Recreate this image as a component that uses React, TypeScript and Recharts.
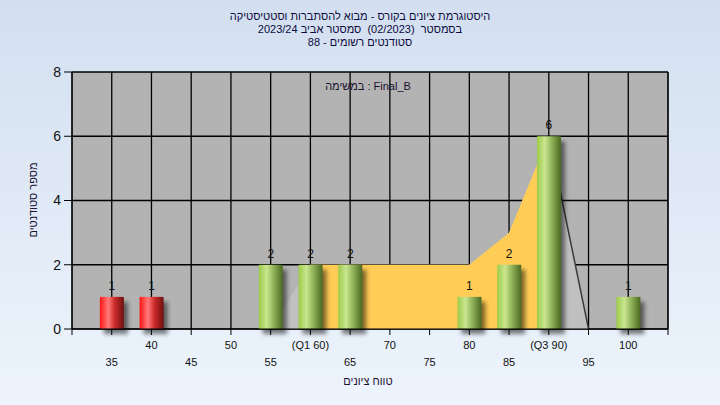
import React from 'react'
import { ComposedChart, Bar, Area, XAxis, YAxis, CartesianGrid, LabelList } from 'recharts'

// grade bins (x axis runs 30..105, labels only on 35..100)
const gradeBins = [30, 35, 40, 45, 50, 55, 60, 65, 70, 75, 80, 85, 90, 95, 100, 105]
const studentCounts = [null, 1, 1, 0, 0, 2, 2, 2, 0, 0, 1, 2, 6, 0, 1, null]
const curveValues = [0, 0, 0, 0, 0, 0, 2, 2, 2, 2, 2, 3, 6, 0, 0, 0]
const iqrValues = [null, null, null, null, null, null, 2, 2, 2, 2, 2, 3, 6, null, null, null]
const tailValues = [null, null, null, null, null, null, null, null, null, null, null, null, 6, 0, 0, null]
const failBins = [35, 40, 45, 50]
const labeledTicks = [35, 40, 45, 50, 55, 60, 65, 70, 75, 80, 85, 90, 95, 100]
const quartileTicks = [60, 90]
const quartileNames = ['Q1', 'Q3']
const yTicks = [0, 2, 4, 6, 8]

const titleLines = [
  'היסטוגרמת ציונים בקורס - מבוא להסתברות וסטטיסטיקה',
  'בסמסטר  (02/2023)  סמסטר אביב 2023/24',
  'סטודנטים רשומים - 88',
]

const rows = gradeBins.map((grade, i) => ({
  grade,
  count: studentCounts[i],
  curve: curveValues[i],
  iqr: iqrValues[i],
  tail: tailValues[i],
}))

const font = '"Liberation Sans", "DejaVu Sans", Arial, sans-serif'

const CylinderBar = (props: any) => {
  const { x, y, width, height, payload } = props
  if (!height || height <= 0) return null
  const fail = failBins.includes(payload.grade)
  return (
    <g>
      <rect x={x + 4} y={y + 5} width={width} height={height} fill="#000" opacity={0.5} filter="url(#barShadow)" />
      <rect x={x} y={y} width={width} height={height} fill={fail ? 'url(#redCyl)' : 'url(#greenCyl)'} />
    </g>
  )
}

const GradeTick = (props: any) => {
  const { x, y, payload } = props
  const v = payload.value
  if (!labeledTicks.includes(v)) return null
  const q = quartileTicks.indexOf(v)
  const text = q >= 0 ? `(${quartileNames[q]} ${v})` : String(v)
  const row = v % 10 === 0 ? 0 : 1
  return (
    <text x={x} y={y + 12 + row * 17} textAnchor="middle" fontSize={11} fill="#111" fontFamily={font}>
      {text}
    </text>
  )
}

const countLabel = (v: any) => (v ? String(v) : '')

const overlayText: React.CSSProperties = {
  position: 'absolute',
  transform: 'translate(-50%, -50%)',
  fontSize: 11,
  color: '#1a1030',
  whiteSpace: 'nowrap',
}

export default function App() {
  return (
    <div
      style={{
        position: 'absolute',
        left: 0,
        top: 0,
        width: 720,
        height: 405,
        background: 'linear-gradient(#d3dff0, #edf4fc)',
        fontFamily: font,
        overflow: 'hidden',
      }}
    >
      <ComposedChart width={720} height={405} data={rows} margin={{ top: 72, right: 0, bottom: 0, left: 0 }}>
        <defs>
          <linearGradient id="greenCyl" x1="0" y1="0" x2="1" y2="0">
            <stop offset="0%" stopColor="#9ccb4a" />
            <stop offset="33%" stopColor="#cae690" />
            <stop offset="60%" stopColor="#93b65a" />
            <stop offset="100%" stopColor="#4b6822" />
          </linearGradient>
          <linearGradient id="redCyl" x1="0" y1="0" x2="1" y2="0">
            <stop offset="0%" stopColor="#ff1414" />
            <stop offset="35%" stopColor="#ff7a7a" />
            <stop offset="62%" stopColor="#cc2a2a" />
            <stop offset="100%" stopColor="#6e1010" />
          </linearGradient>
          <filter id="barShadow" x="-50%" y="-20%" width="200%" height="140%">
            <feGaussianBlur stdDeviation="2" />
          </filter>
        </defs>
        <CartesianGrid yAxisId="left" stroke="#000" strokeWidth={1.3} fill="#b3b3b3" fillOpacity={1} />
        <XAxis
          dataKey="grade"
          type="number"
          domain={[30, 105]}
          ticks={gradeBins}
          interval={0}
          height={76}
          tickSize={6}
          tickMargin={2}
          stroke="#000"
          tick={<GradeTick />}
        />
        <YAxis
          yAxisId="left"
          domain={[0, 8]}
          ticks={yTicks}
          width={72}
          tickSize={8}
          tickMargin={3}
          stroke="#000"
          tick={{ fontSize: 14, fill: '#111', fontFamily: font }}
        />
        <YAxis
          yAxisId="right"
          orientation="right"
          domain={[0, 8]}
          ticks={yTicks}
          width={52}
          tickSize={8}
          tickMargin={2}
          stroke="#000"
          tick={{ fontSize: 14, fill: '#111', fontFamily: font, textAnchor: 'start' }}
        />
        <Area yAxisId="left" type="linear" dataKey="curve" fill="#c0c0c0" fillOpacity={1} stroke="none" isAnimationActive={false} />
        <Area yAxisId="left" type="linear" dataKey="iqr" fill="#ffcc55" fillOpacity={1} stroke="none" isAnimationActive={false} />
        <Area yAxisId="left" type="linear" dataKey="tail" fill="none" fillOpacity={0} stroke="#3a3a3a" strokeWidth={1.5} dot={false} isAnimationActive={false} />
        <Bar yAxisId="left" dataKey="count" barSize={24} shape={<CylinderBar />} isAnimationActive={false}>
          <LabelList dataKey="count" position="top" offset={7} formatter={countLabel} fontSize={12} fill="#111" fontFamily={font} />
        </Bar>
      </ComposedChart>

      <div
        dir="rtl"
        style={{
          position: 'absolute',
          top: 10,
          left: 0,
          width: 720,
          textAlign: 'center',
          fontSize: 11,
          lineHeight: '13px',
          color: '#0c0c40',
        }}
      >
        {titleLines.map((t) => (
          <div key={t} style={{ whiteSpace: 'pre' }}>{t}</div>
        ))}
      </div>
      <div style={{ ...overlayText, left: 368, top: 86 }}>במשימה : Final_B</div>
      <div style={{ ...overlayText, left: 368, top: 381 }}>טווח ציונים</div>
      <div style={{ ...overlayText, left: 33, top: 200, transform: 'translate(-50%, -50%) rotate(-90deg)' }}>
        מספר סטודנטים
      </div>
    </div>
  )
}
